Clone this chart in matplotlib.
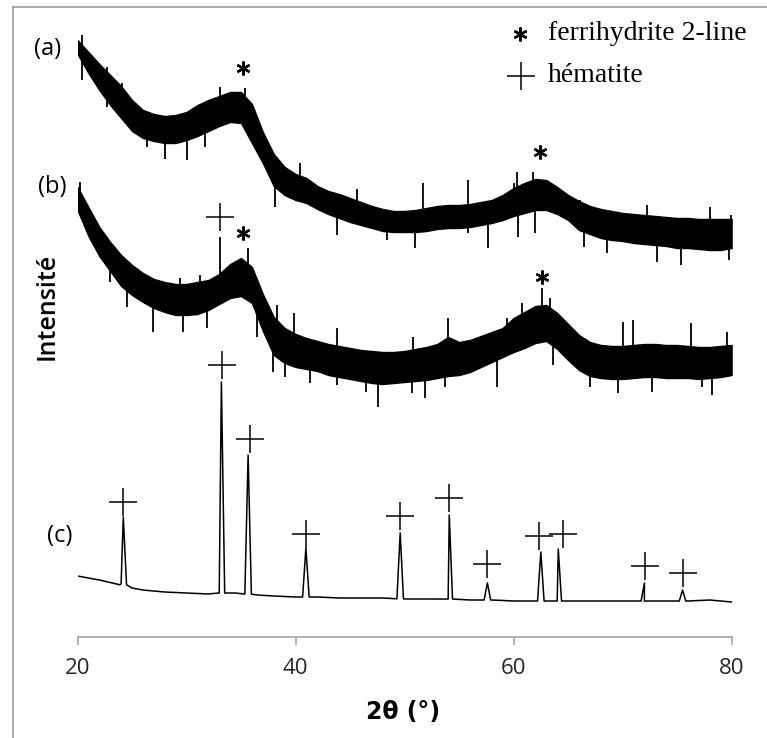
import numpy as np
import matplotlib.pyplot as plt
from matplotlib.lines import Line2D

# 2theta grid for the amorphous patterns (a) and (b), one reading per degree
angles = np.arange(20, 81, 1)

# pattern (a): upper / lower edge of the dense noisy band
a_hi = [597, 585, 573, 562, 551, 537, 527, 523, 521, 522, 525, 532, 537, 541, 545, 545,
        533, 505, 483, 470, 463, 459, 451, 446, 443, 439, 435, 431, 428, 426, 426, 427,
        429, 431, 432, 432, 433, 435, 437, 442, 449, 454, 458, 457, 450, 442, 436, 431,
        428, 426, 424, 423, 422, 421, 420, 419, 419, 418, 418, 418, 418]
a_lo = [583, 564, 547, 532, 519, 506, 499, 496, 494, 494, 497, 501, 506, 511, 515, 514,
        494, 474, 451, 442, 437, 434, 428, 423, 419, 415, 412, 409, 406, 405, 405, 405,
        406, 408, 409, 409, 410, 412, 414, 417, 421, 424, 427, 427, 423, 417, 407, 403,
        399, 397, 396, 394, 393, 392, 391, 389, 389, 388, 387, 387, 389]

# pattern (b)
b_hi = [450, 430, 410, 395, 382, 372, 364, 358, 355, 353, 353, 355, 357, 363, 373, 379,
        370, 343, 320, 309, 303, 299, 296, 293, 291, 289, 287, 286, 285, 285, 286, 288,
        290, 293, 300, 295, 297, 301, 305, 309, 319, 325, 331, 332, 324, 313, 302, 295,
        292, 291, 291, 292, 293, 293, 292, 292, 291, 290, 290, 291, 292]
b_lo = [427, 401, 381, 366, 351, 342, 335, 329, 325, 322, 322, 323, 327, 333, 339, 341,
        334, 306, 282, 274, 270, 268, 266, 262, 260, 258, 256, 254, 253, 254, 255, 256,
        257, 259, 261, 262, 265, 270, 275, 280, 285, 289, 294, 296, 288, 277, 267, 261,
        259, 258, 258, 259, 260, 260, 259, 259, 259, 258, 259, 260, 262]

# isolated spikes (angle, tip intensity)
a_spike_x = [20.4, 22.7, 24.1, 33.1, 35.4, 40.4, 51.7, 55.8, 60.0, 60.3, 61.8, 66.1, 72.2,
             78.0, 79.9, 45.6, 20.4, 22.7, 26.4, 28.0, 30.0, 31.7, 38.1, 43.8, 48.4, 51.0,
             55.8, 57.7, 60.4, 62.0, 66.5, 68.6, 73.2, 75.4, 79.8]
a_spike_y = [602, 570, 554, 550, 549, 474, 454, 457, 454, 465, 465, 437, 432, 430, 422, 448,
             557, 530, 490, 478, 477, 490, 430, 402, 397, 389, 404, 389, 400, 404, 390, 384,
             375, 372, 377]
b_spike_x = [20.2, 29.4, 31.2, 33.1, 35.6, 38.3, 39.9, 43.8, 50.8, 54.0, 59.4, 60.8, 62.6,
             63.3, 70.0, 71.0, 76.3, 79.6, 23.0, 24.5, 26.9, 29.7, 31.9, 36.5, 37.9, 39.0,
             41.3, 43.8, 46.5, 47.6, 50.7, 51.9, 53.7, 58.5, 63.6, 67.0, 69.6, 72.7, 77.3,
             78.2]
b_spike_y = [455, 359, 362, 400, 389, 332, 324, 309, 300, 319, 319, 334, 349, 339, 315, 317,
             314, 305, 355, 330, 305, 305, 309, 300, 265, 260, 254, 252, 245, 230, 244, 239,
             250, 250, 272, 250, 244, 245, 250, 242]

# pattern (c): hematite, baseline + sharp reflections
c_base_x = [20, 22, 24, 25, 26, 28, 30, 32, 33, 34.5, 36.5, 38, 40, 42, 44, 46, 48, 50,
            52, 54, 56, 58, 60, 62, 64, 66, 68, 70, 72, 74, 76, 78, 80]
c_base_y = [61, 57, 53, 49, 47, 45, 44, 43, 44, 44, 42, 41, 40, 40, 39, 39, 39, 38,
            38, 38, 37, 37, 36, 36, 36, 36, 36, 36, 36, 36, 36, 37, 35]
c_peak_x = [24.2, 33.2, 35.65, 40.95, 49.6, 54.1, 57.6, 62.5, 64.1, 72.0, 75.5]
c_peak_y = [120, 255, 182, 89, 104, 122, 54, 85, 88, 54, 47]

# phase markers
ferri_x = [35.2, 62.4, 35.2, 62.6]
ferri_y = [569, 485, 404, 360]
hem_x = [33.1, 24.2, 33.25, 35.8, 41.0, 49.55, 54.1, 57.6, 62.3, 64.5, 72.05, 75.5]
hem_y = [420, 135, 272, 198, 103, 121, 139, 73, 101, 103, 71, 64]

W, H = 767, 738
fig = plt.figure(figsize=(W / 100, H / 100), dpi=100)
ax = fig.add_axes([77.5 / W, (H - 637) / H, (731.6 - 77.5) / W, 630 / H])

for hi, lo in [(a_hi, a_lo), (b_hi, b_lo)]:
    ax.fill_between(angles, lo, hi, color='black', lw=1.0)

a_mid = np.interp(a_spike_x, angles, (np.array(a_hi) + np.array(a_lo)) / 2)
b_mid = np.interp(b_spike_x, angles, (np.array(b_hi) + np.array(b_lo)) / 2)
ax.vlines(a_spike_x, a_mid, a_spike_y, color='black', lw=1.3)
ax.vlines(b_spike_x, b_mid, b_spike_y, color='black', lw=1.3)

# build the (c) line: baseline points and each reflection with its two feet
cx = list(c_base_x)
cy = list(c_base_y)
for px, py in zip(c_peak_x, c_peak_y):
    base = np.interp(px, c_base_x, c_base_y)
    cx += [px - 0.3, px, px + 0.3]
    cy += [base, py, base]
order = np.argsort(cx)
ax.plot(np.array(cx)[order], np.array(cy)[order], color='black', lw=1.1)

star = dict(ls='none', marker=(6, 2, 0), ms=10, mew=1.7, color='black')
cross = dict(ls='none', marker='+', ms=20, mew=1.1, color='black')
ax.plot(ferri_x, ferri_y, **star)
ax.plot(hem_x, hem_y, **cross)

ax.set_xlim(20, 80)
ax.set_ylim(0, 630)
for s in ['left', 'right', 'top']:
    ax.spines[s].set_visible(False)
ax.spines['bottom'].set_color('#a6a6a6')
ax.spines['bottom'].set_linewidth(1.2)
ax.set_xticks([20, 40, 60, 80])
ax.set_yticks([])
ax.tick_params(axis='x', direction='out', length=6, width=1.2, color='#a6a6a6',
               pad=9, labelsize=16, labelcolor='#262626')
for lab in ax.get_xticklabels():
    lab.set_family('Open Sans')

fig.text(403 / W, 1 - 712 / H, '2θ (°)', ha='center', va='center', fontsize=17,
         fontweight='bold', family='DejaVu Sans')
fig.text(47 / W, 1 - 306 / H, 'Intensité', rotation=90, ha='center', va='center',
         fontsize=18, fontweight='semibold', family='Open Sans')
for lbl, x, y in [('(a)', 48, 49), ('(b)', 52, 187), ('(c)', 60, 536)]:
    fig.text(x / W, 1 - y / H, lbl, ha='center', va='center', fontsize=17, family='Open Sans')

# legend, laid out by hand
fig.add_artist(Line2D([520 / W], [1 - 34 / H], **star))
fig.add_artist(Line2D([521 / W], [1 - 76 / H], **cross))
fig.text(548 / W, 1 - 33 / H, 'ferrihydrite 2-line', ha='left', va='center', fontsize=20,
         family='Liberation Serif')
fig.text(548 / W, 1 - 75 / H, 'hématite', ha='left', va='center', fontsize=20,
         family='Liberation Serif')

# gray frame around the pasted figure
fig.add_artist(Line2D([12.5 / W, 12.5 / W], [0, 1 - 7 / H], color='#9a9a9a', lw=1.2))
fig.add_artist(Line2D([12.5 / W, 1], [1 - 7 / H, 1 - 7 / H], color='#9a9a9a', lw=1.2))

fig.savefig('out.png', dpi=100)
